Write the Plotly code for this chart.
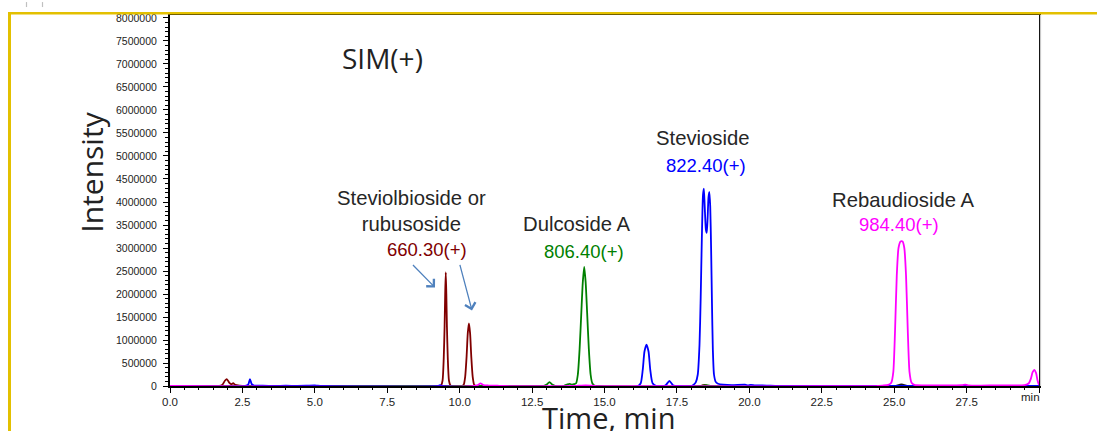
import plotly.graph_objects as go

# ---------------- data ----------------
t_660 = [0, 1.7, 1.8, 1.9, 1.96, 2.05, 2.12, 2.18, 2.26, 2.4, 2.6, 9.30, 9.36, 9.41, 9.45, 9.48, 9.50, 9.52, 9.54, 9.56, 9.59, 9.63, 9.68, 9.75,
         10.08, 10.14, 10.19, 10.24, 10.28, 10.32, 10.36, 10.40, 10.45, 10.50, 10.56, 18.3, 18.45, 18.6, 30]
i_660 = [0, 0, 20e3, 120e3, 150e3, 70e3, 40e3, 60e3, 25e3, 10e3, 0, 0, 15e3, 120e3, 600e3, 1.3e6, 2.0e6, 2.47e6, 2.0e6, 1.3e6, 600e3, 120e3, 15e3, 0,
         0, 30e3, 200e3, 650e3, 1.15e6, 1.36e6, 1.15e6, 650e3, 200e3, 30e3, 0, 0, 25e3, 0, 0]

t_806 = [0, 12.6, 12.9, 13.0, 13.1, 13.2, 13.3, 13.6, 13.72, 13.8, 13.88, 13.95, 14.02, 14.08, 14.14, 14.20, 14.25, 14.30,
         14.35, 14.40, 14.46, 14.52, 14.58, 14.65, 14.8, 18.35, 18.5, 18.65, 30]
i_806 = [0, 0, 5e3, 30e3, 85e3, 30e3, 5e3, 5e3, 35e3, 45e3, 30e3, 40e3, 60e3, 250e3, 800e3, 1.6e6, 2.25e6, 2.59e6,
         2.25e6, 1.6e6, 800e3, 250e3, 60e3, 10e3, 0, 0, 20e3, 0, 0]

t_822 = [0, 2.6, 2.7, 2.76, 2.82, 2.9, 3.2, 3.6, 4.0, 4.4, 4.7, 5.0, 5.1, 5.3, 9.25, 9.32, 9.4, 16.15, 16.25, 16.32, 16.38, 16.45, 16.52, 16.58, 16.66,
         16.8, 17.1, 17.24, 17.38, 17.6, 18.00, 18.08, 18.15, 18.22, 18.28, 18.32, 18.36, 18.40, 18.43, 18.46, 18.50, 18.53, 18.56,
         18.59, 18.62, 18.65, 18.68, 18.71, 18.74, 18.78, 18.84, 18.92, 19.1, 19.4, 19.85, 19.95, 20.05, 20.2, 20.6, 21.0, 30]
i_822 = [0, 0, 30e3, 150e3, 40e3, 10e3, 5e3, 3e3, 6e3, 3e3, 6e3, 12e3, 5e3, 0, 0, 20e3, 0, 0, 60e3, 350e3, 750e3, 900e3, 750e3, 350e3, 60e3,
         0, 10e3, 110e3, 10e3, 0, 0, 30e3, 80e3, 250e3, 900e3, 1.9e6, 3.2e6, 4.15e6, 4.29e6, 3.9e6, 3.4e6, 3.33e6, 3.65e6,
         4.1e6, 4.22e6, 3.9e6, 3.0e6, 1.8e6, 800e3, 250e3, 90e3, 50e3, 30e3, 20e3, 30e3, 15e3, 25e3, 15e3, 10e3, 0, 0]

t_984 = [0, 10.5, 10.62, 10.72, 10.82, 11.0, 11.3, 11.5, 14.0, 14.2, 14.5, 14.7, 24.4, 24.6, 24.8, 24.9, 24.97, 25.03, 25.09, 25.15,
         25.22, 25.29, 25.35, 25.41, 25.47, 25.53, 25.6, 25.7, 26.0, 26.5, 27.0, 27.35, 27.45, 27.55, 28.0, 28.6, 29.0, 29.5,
         29.65, 29.72, 29.78, 29.84, 29.9, 29.95, 30.0]
i_984 = [0, 0, 20e3, 55e3, 20e3, 10e3, 5e3, 0, 0, 10e3, 10e3, 0, 0, 10e3, 25e3, 70e3, 300e3, 1.2e6, 2.4e6, 3.0e6,
         3.14e6, 3.14e6, 3.0e6, 2.4e6, 1.2e6, 300e3, 70e3, 25e3, 15e3, 15e3, 15e3, 20e3, 30e3, 15e3, 10e3, 15e3, 15e3, 20e3,
         60e3, 160e3, 300e3, 350e3, 280e3, 120e3, 20e3]

t_tic = [0, 25.05, 25.2, 25.3, 25.45, 30]
i_tic = [0, 0, 30e3, 30e3, 0, 0]

series_names = ["660.30(+)", "806.40(+)", "822.40(+)", "984.40(+)", "baseline"]
series_colors = ["#800000", "#008000", "#0000FF", "#FF00FF", "#1a1a1a"]
series_t = [t_660, t_806, t_822, t_984, t_tic]
series_i = [i_660, i_806, i_822, i_984, i_tic]

x_tickvals = [0, 2.5, 5, 7.5, 10, 12.5, 15, 17.5, 20, 22.5, 25, 27.5, 30]
x_ticktext = ["0.0", "2.5", "5.0", "7.5", "10.0", "12.5", "15.0", "17.5", "20.0", "22.5", "25.0", "27.5", ""]

compound_names = ["Steviolbioside or<br>rubusoside", "Dulcoside A", "Stevioside", "Rebaudioside A"]

# ---------------- layout helpers ----------------
W, H = 1097, 431
L, R, T, B = 170, 1039, 13, 386


def px(x):
    return (x - L) / (R - L)


def py(y):
    return (B - y) / (B - T)


fig = go.Figure()
order = [4, 0, 1, 2, 3]
for k in order:
    fig.add_trace(go.Scatter(x=series_t[k], y=series_i[k], mode="lines", name=series_names[k],
                             line=dict(color=series_colors[k], width=1.8, shape="spline", smoothing=0.6),
                             hoverinfo="skip"))

fig.update_layout(
    width=W, height=H,
    margin=dict(l=L, r=W - R, t=T, b=H - B),
    paper_bgcolor="white", plot_bgcolor="white",
    showlegend=False,
    font=dict(family="Liberation Sans, Arial", color="#222222"),
)
fig.update_xaxes(
    range=[0, 30], tickvals=x_tickvals, ticktext=x_ticktext,
    ticks="outside", ticklen=5, tickwidth=1.2, tickcolor="black",
    minor=dict(dtick=0.5, ticks="outside", ticklen=2, tickcolor="black", tickwidth=1.2),
    showline=True, linecolor="black", linewidth=2, mirror=True,
    showgrid=False, zeroline=False,
    tickfont=dict(size=11.5, color="#222222"),
    ticklabelstandoff=-1,
)
fig.update_yaxes(
    range=[0, 8.065e6], dtick=500000, tick0=0, tickformat="d",
    ticks="outside", ticklen=5, tickwidth=1.2, tickcolor="black",
    minor=dict(dtick=100000, ticks="outside", ticklen=3, tickcolor="black", tickwidth=1),
    showline=True, linecolor="black", linewidth=2, mirror=True,
    showgrid=False, zeroline=False,
    tickfont=dict(size=10.5, color="#222222"),
    ticklabelstandoff=4,
)

ann = []
# axis titles
ann.append(dict(text="Intensity", x=px(91.5), y=py(171), xref="paper", yref="paper", showarrow=False,
                textangle=-90, font=dict(family="Open Sans", size=30, color="#222222"),
                xanchor="center", yanchor="middle"))
ann.append(dict(text="Time, min", x=px(608), y=py(418), xref="paper", yref="paper", showarrow=False,
                font=dict(family="Open Sans", size=29, color="#222222"), xanchor="center", yanchor="middle"))
ann.append(dict(text="min", x=px(1042), y=py(397), xref="paper", yref="paper", showarrow=False,
                font=dict(size=11.5, color="#222222"), xanchor="right", yanchor="middle"))
ann.append(dict(text="SIM(+)", x=px(382), y=py(56), xref="paper", yref="paper", showarrow=False,
                font=dict(family="Open Sans", size=28, color="#222222"), xanchor="center", yanchor="middle"))
# compound names
name_pos = [(411, 210), (577, 223), (703, 136.5), (903, 199)]
for nm, (x0, y0) in zip(compound_names, name_pos):
    ann.append(dict(text=nm, x=px(x0), y=py(y0), xref="paper", yref="paper", showarrow=False,
                    font=dict(size=20.3, color="#262626"), xanchor="center", yanchor="middle"))
# m/z labels
mz_pos = [(427, 249), (584, 251), (705.5, 164), (899, 224)]
for nm, col, (x0, y0) in zip(series_names[:4], series_colors[:4], mz_pos):
    ann.append(dict(text=nm, x=px(x0), y=py(y0), xref="paper", yref="paper", showarrow=False,
                    font=dict(size=18.5, color=col), xanchor="center", yanchor="middle"))
# arrows
for (hx, hy), (tx, ty) in [((435, 287), (411.5, 263)), ((472, 310), (459.5, 263))]:
    ann.append(dict(x=px(hx), y=py(hy), xref="paper", yref="paper", ax=tx - hx, ay=ty - hy,
                    showarrow=True, arrowhead=4, arrowsize=1.6, arrowwidth=1.3, arrowcolor="#4F81BD", text=""))
fig.update_layout(annotations=ann)

shapes = []
gold = "#E3C000"
shapes.append(dict(type="line", xref="paper", yref="paper", x0=px(9.5), x1=px(9.5), y0=py(11), y1=py(H + 5),
                   line=dict(color=gold, width=3)))
shapes.append(dict(type="line", xref="paper", yref="paper", x0=px(8), x1=px(W + 5), y0=py(11.3), y1=py(11.3),
                   line=dict(color=gold, width=2.5)))
shapes.append(dict(type="line", xref="paper", yref="paper", x0=px(1040.5), x1=px(1040.5), y0=py(13), y1=py(386),
                   line=dict(color="#c8c8c8", width=1.2)))
for gx in (26.5, 42.5):
    shapes.append(dict(type="line", xref="paper", yref="paper", x0=px(gx), x1=px(gx), y0=py(0), y1=py(5),
                       line=dict(color="#c0c0c0", width=1.2)))
fig.update_layout(shapes=shapes)

fig.write_html("out.html", config={"displayModeBar": False},
               post_script="document.body.style.margin='0';document.body.style.overflow='hidden';")
